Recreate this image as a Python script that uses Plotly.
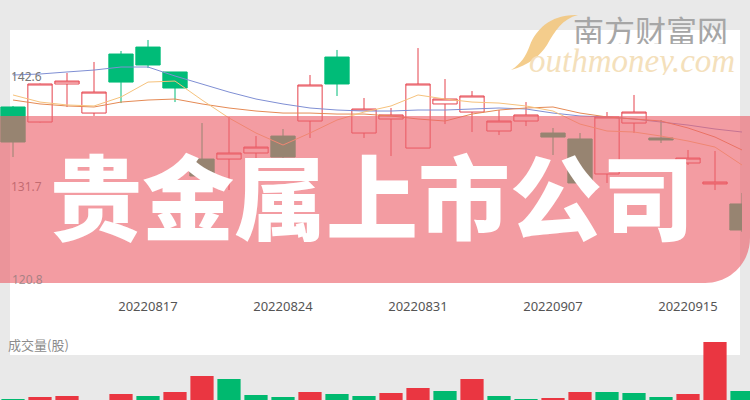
import plotly.graph_objects as go

W, H = 750, 400

dates = ["20220810", "20220811", "20220812", "20220815", "20220816", "20220817", "20220818",
         "20220819", "20220822", "20220823", "20220824", "20220825", "20220826", "20220829",
         "20220830", "20220831", "20220901", "20220902", "20220905", "20220906", "20220907",
         "20220908", "20220909", "20220913", "20220914", "20220915", "20220916", "20220919"]
open_ = [139.63, 138.14, 141.91, 139.03, 144.88, 145.57, 143.10, 134.47, 134.47, 135.07, 136.75,
         138.24, 144.58, 137.05, 138.44, 135.56, 139.93, 139.13, 137.25, 138.24, 137.05, 136.46,
         132.99, 138.04, 136.56, 134.08, 132.00, 130.02]
high = [139.73, 141.95, 143.00, 144.09, 145.18, 146.27, 143.10, 138.04, 138.64, 136.75, 137.45,
        142.80, 145.28, 140.52, 139.53, 145.47, 142.40, 141.21, 139.33, 140.12, 137.55, 137.05,
        139.13, 140.82, 138.34, 135.37, 135.27, 131.11]
low = [134.67, 138.10, 139.63, 138.74, 140.02, 143.49, 140.12, 131.90, 131.40, 134.38, 134.20,
       136.56, 140.72, 136.56, 134.77, 135.56, 137.94, 137.15, 136.85, 137.74, 134.87, 131.90,
       132.10, 137.05, 136.06, 133.88, 131.40, 127.24]
close = [136.16, 141.91, 142.20, 141.11, 142.10, 143.79, 141.51, 132.79, 135.07, 135.66, 134.67,
         141.81, 141.91, 139.43, 138.84, 141.91, 140.42, 140.72, 138.24, 138.84, 136.65, 132.10,
         138.64, 139.13, 136.36, 134.57, 132.20, 127.44]

ma5 = [140.82, 140.12, 139.83, 139.73, 140.62, 142.10, 142.20, 140.32, 138.54, 137.05, 135.86,
       137.05, 138.34, 139.13, 139.73, 140.82, 140.42, 140.12, 140.02, 139.73, 139.23, 137.94,
       137.25, 137.15, 136.75, 136.26, 135.66, 133.88]
ma10 = [140.32, 139.93, 139.73, 139.63, 140.12, 140.32, 140.42, 139.93, 139.53, 139.23, 139.03,
        139.03, 138.93, 138.93, 138.74, 138.44, 138.24, 138.93, 139.33, 139.53, 139.63, 139.03,
        138.64, 138.44, 138.24, 137.55, 136.65, 135.37]
ma20 = [142.80, 142.90, 143.10, 143.29, 143.59, 143.59, 142.70, 141.91, 141.11, 140.42, 139.93,
        139.53, 139.33, 139.23, 139.23, 139.33, 139.33, 139.43, 139.53, 139.43, 139.03, 138.74,
        138.64, 138.44, 138.14, 137.84, 137.45, 137.15]

volume = [21, 23, 24, 15, 26, 24, 28, 44, 41, 25, 23, 28, 26, 24, 27, 32, 29, 41, 24, 21, 22,
          28, 28, 27, 23, 26, 78, 29]
vol_dir = ["d", "u", "u", "u", "u", "d", "u", "u", "d", "d", "d", "u", "d", "d", "u", "u", "d",
           "u", "d", "d", "u", "u", "d", "d", "d", "u", "u", "d"]

x_ticks = ["20220817", "20220824", "20220831", "20220907", "20220915"]
y_ticks = [131.7, 142.6]
y_tick_low = 120.8

RED = "#e5424c"
GREEN = "#00bc78"
VRED = "#ea3641"
VGREEN = "#00b96f"


def px(x, y):
    return f"{x / W:.5f},{1 - y / H:.5f}"


fig = go.Figure()

for vals, col in [(ma20, "#7f8fd4"), (ma10, "#e58a55"), (ma5, "#f6c27c")]:
    fig.add_trace(go.Scatter(x=dates, y=vals, mode="lines", line=dict(color=col, width=1),
                             hoverinfo="skip", showlegend=False, xaxis="x", yaxis="y"))

fig.add_trace(go.Candlestick(
    x=dates, open=open_, high=high, low=low, close=close,
    increasing=dict(line=dict(color=RED, width=1), fillcolor="white"),
    decreasing=dict(line=dict(color=GREEN, width=1), fillcolor=GREEN),
    whiskerwidth=0, showlegend=False, hoverinfo="skip", xaxis="x", yaxis="y"))

fig.add_trace(go.Bar(
    x=dates, y=volume, marker=dict(color=[VRED if d == "u" else VGREEN for d in vol_dir],
                                   line=dict(width=0)),
    showlegend=False, hoverinfo="skip", xaxis="x2", yaxis="y2"))

shapes = [
    # white panel
    dict(type="rect", xref="paper", yref="paper", x0=10 / W, x1=740 / W,
         y0=1 - 355 / H, y1=1 - 30 / H, fillcolor="white", line=dict(width=0), layer="below"),
    # translucent banner with rounded bottom-right corner
    dict(type="path", xref="paper", yref="paper", layer="above",
         path=("M" + px(0, 116) + " L" + px(750, 116) + " L" + px(750, 238) +
               " C" + px(750, 263) + " " + px(730, 283) + " " + px(705, 283) +
               " L" + px(0, 283) + " Z"),
         fillcolor="rgba(236,100,110,0.64)", line=dict(width=0)),
    # logo swoosh
    dict(type="path", xref="paper", yref="paper", layer="above",
         path=("M" + px(578, 15) + " C" + px(550, 14) + " " + px(536, 30) + " " + px(530, 45) +
               " C" + px(526, 56) + " " + px(521, 64) + " " + px(511, 70) +
               " C" + px(529, 65) + " " + px(540, 56) + " " + px(547, 45) +
               " C" + px(555, 31) + " " + px(562, 19) + " " + px(578, 15) + " Z"),
         fillcolor="rgba(242,196,120,0.85)", line=dict(width=0)),
]

annotations = [
    dict(text="贵金属上市公司", xref="paper", yref="paper", x=372 / W, y=1 - 192 / H,
         xanchor="center", yanchor="middle", showarrow=False,
         font=dict(family="Noto Sans CJK SC", size=92, color="white", weight=900)),
    dict(text="南方财富网", xref="paper", yref="paper", x=650 / W, y=1 - 29 / H,
         xanchor="center", yanchor="middle", showarrow=False, height=30,
         font=dict(family="Noto Sans CJK SC", size=31, color="#a6a6a6")),
    dict(text="outhmoney.com", xref="paper", yref="paper", x=632 / W, y=1 - 61 / H,
         xanchor="center", yanchor="middle", showarrow=False, height=28,
         font=dict(family="Liberation Serif", size=33, color="#f4e0bb", style="italic")),
    dict(text="成交量(股)", xref="paper", yref="paper", x=6 / W, y=1 - 344 / H,
         xanchor="left", yanchor="middle", showarrow=False,
         font=dict(family="Noto Sans CJK SC", size=13, color="#8c8c8c")),
    dict(text=f"{y_tick_low:.1f}", xref="paper", yref="y", x=10 / W, y=y_tick_low,
         xanchor="left", yanchor="bottom", yshift=7, showarrow=False,
         font=dict(family="Noto Sans", size=12, color="rgba(140,120,122,0.75)")),
]

price_range = [120.8, 147.26]
axis_font = dict(family="Noto Sans", size=12, color="#777777")

fig.update_layout(
    width=W, height=H, margin=dict(l=0, r=0, t=0, b=0),
    paper_bgcolor="#e9e9e9", plot_bgcolor="rgba(0,0,0,0)",
    boxgap=0.1, boxgroupgap=0, bargap=0.14,
    shapes=shapes, annotations=annotations,
    xaxis=dict(domain=[0, 742 / W], range=[-0.4815, 27.0], type="category",
               rangeslider=dict(visible=False), tickvals=x_ticks, ticktext=x_ticks,
               ticks="", showgrid=False, zeroline=False, showline=False,
               tickfont=dict(family="Noto Sans", size=13, color="#555555"), anchor="y"),
    yaxis=dict(domain=[1 - 297 / H, 1 - 30 / H], range=price_range, tickvals=y_ticks,
               ticktext=[f"{v:.1f}" for v in y_ticks], ticklabelposition="inside",
               ticklabelstandoff=8, ticks="", showgrid=False, zeroline=False, showline=False,
               tickfont=axis_font, anchor="x"),
    xaxis2=dict(domain=[0, 1], range=[-0.4815, 27.296], type="category", anchor="y2",
                showticklabels=False, ticks="", showgrid=False, zeroline=False, showline=False),
    yaxis2=dict(domain=[0, 1 - 330 / H], range=[20, 90], anchor="x2", showticklabels=False,
                ticks="", showgrid=False, zeroline=False, showline=False),
)

fig.write_html("out.html", config={"displayModeBar": False},
               post_script="document.body.style.margin='0px';")
